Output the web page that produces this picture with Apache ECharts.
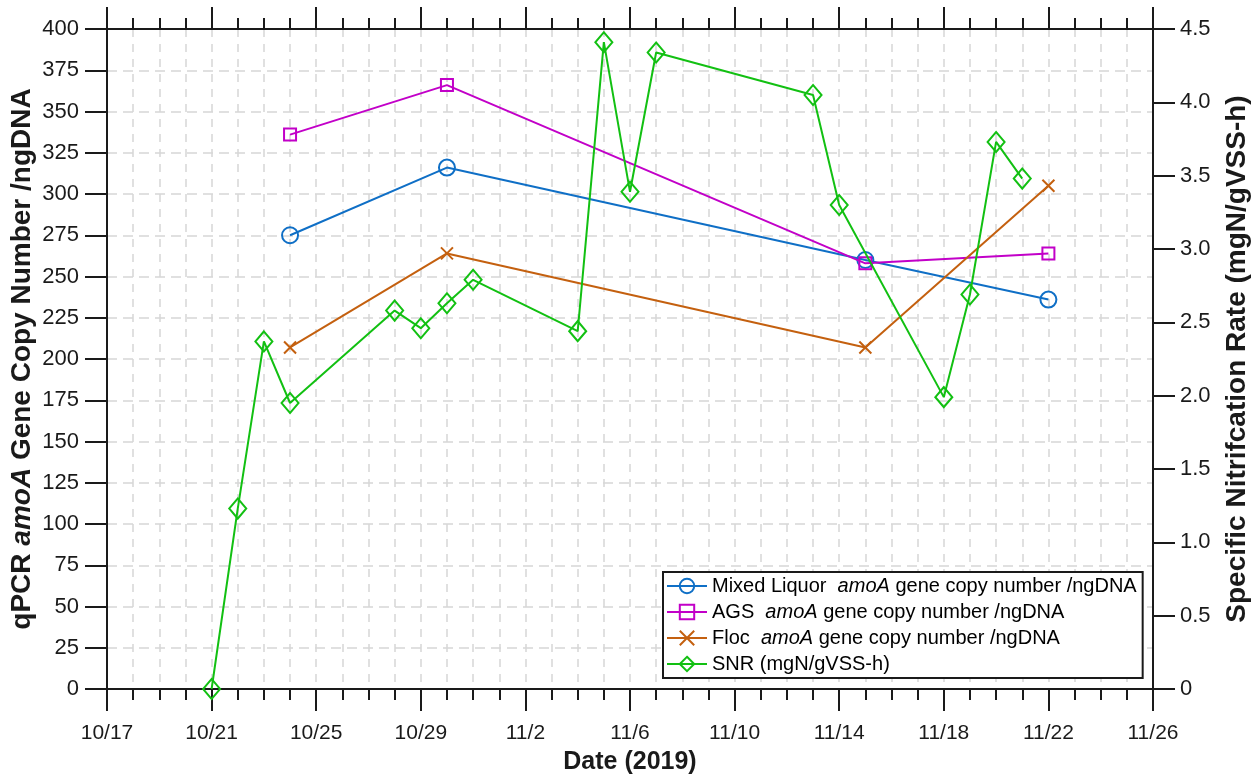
<!DOCTYPE html>
<html>
<head>
<meta charset="utf-8">
<script src="https://cdn.jsdelivr.net/npm/echarts@6/dist/echarts.min.js"></script>
<style>
html,body{margin:0;padding:0;background:#fff;}
#chart{width:1257px;height:782px;}
</style>
</head>
<body>
<div id="chart"></div>
<script>
// ---- data ----
const geneDates = ['10/24', '10/30', '11/15', '11/22'];
const mixedLiquorValues = [275, 316, 260, 236];
const agsValues = [336, 366, 258, 264];
const flocValues = [207, 264, 207, 305];

const snrDates = ['10/21','10/22','10/23','10/24','10/28','10/29','10/30','10/31','11/4','11/5','11/6','11/7','11/13','11/14','11/18','11/19','11/20','11/21'];
const snrValues = [0, 1.23, 2.37, 1.95, 2.58, 2.46, 2.63, 2.79, 2.44, 4.41, 3.39, 4.34, 4.05, 3.30, 1.99, 2.69, 3.73, 3.48];

const year = 2019;
const startDate = '10/17';
const endDate = '11/26';

// ---- helpers ----
const DAY = 86400000;
function toUTC(s){ const p = s.split('/'); return Date.UTC(year, +p[0]-1, +p[1]); }
const t0 = toUTC(startDate);
function dayIndex(s){ return Math.round((toUTC(s) - t0)/DAY); }
function pairs(dates, vals){ return dates.map((d,i)=>[dayIndex(d), vals[i]]); }
function dayLabel(v){ const d = new Date(t0 + v*DAY); return (d.getUTCMonth()+1) + '/' + d.getUTCDate(); }

const FONT = 'Liberation Sans, Arial, sans-serif';
const AXIS_COLOR = '#1a1a1a';
const GRID_COLOR = '#d6d6d6';

const C_BLUE = '#0F6FC6';
const C_MAG = '#C200C8';
const C_ORG = '#C4600F';
const C_GRN = '#12C012';

const xMax = dayIndex(endDate);

const chart = echarts.init(document.getElementById('chart'), null, {renderer:'canvas'});

function xAxisBase(pos){
  return {
    type:'value', position:pos, min:0, max:xMax, interval:4,
    axisLine:{show:true, onZero:false, lineStyle:{color:AXIS_COLOR, width:2}},
    axisTick:{show:true, inside:false, length:22, lineStyle:{color:AXIS_COLOR, width:2}},
    minorTick:{show:true, splitNumber:4, length:11, lineStyle:{color:AXIS_COLOR, width:2}},
  };
}

const legendRich = {
  n:{fontFamily:FONT, fontSize:20, color:'#000'},
  i:{fontFamily:FONT, fontSize:20, color:'#000', fontStyle:'italic'}
};

const option = {
  backgroundColor:'#fff',
  animation:false,
  textStyle:{fontFamily:FONT},
  grid:{left:107, right:104, top:29, bottom:93, containLabel:false, outerBoundsMode:'none'},
  legend:{
    orient:'vertical', left:663, top:572,
    backgroundColor:'#fff', borderColor:'#1a1a1a', borderWidth:2, borderRadius:0,
    padding:[3,6,3,3], itemGap:4, itemWidth:40, itemHeight:18,
    textStyle:{fontFamily:FONT, fontSize:20, color:'#000', lineHeight:22, rich:legendRich},
    data:['ml','ags','floc','snr'],
    formatter:function(name){
      if(name==='ml') return '{n|Mixed Liquor  }{i|amoA}{n| gene copy number /ngDNA}';
      if(name==='ags') return '{n|AGS  }{i|amoA}{n| gene copy number /ngDNA}';
      if(name==='floc') return '{n|Floc  }{i|amoA}{n| gene copy number /ngDNA}';
      return '{n|SNR (mgN/gVSS-h)}';
    }
  },
  xAxis:[
    Object.assign(xAxisBase('bottom'), {
      name:'Date (2019)', nameLocation:'middle', nameGap:61,
      nameTextStyle:{fontFamily:FONT, fontSize:25, fontWeight:'bold', color:'#1a1a1a'},
      axisLabel:{show:true, margin:34, fontFamily:FONT, fontSize:21, color:'#1a1a1a', formatter:dayLabel},
      splitLine:{show:true, lineStyle:{color:GRID_COLOR, width:1.5, type:[8,7]}},
      minorSplitLine:{show:true, lineStyle:{color:GRID_COLOR, width:1.5, type:[8,7]}}
    }),
    Object.assign(xAxisBase('top'), {
      axisLabel:{show:false}, splitLine:{show:false}, minorSplitLine:{show:false}
    })
  ],
  yAxis:[
    {
      type:'value', position:'left', min:0, max:400, interval:25,
      name:'{b|qPCR }{bi|amoA}{b| Gene Copy Number /ngDNA}', nameLocation:'middle', nameGap:71, nameRotate:90,
      nameMoveOverlap:false,
      nameTextStyle:{rich:{
        b:{fontFamily:FONT, fontSize:28, fontWeight:'bold', color:'#1a1a1a'},
        bi:{fontFamily:FONT, fontSize:28, fontWeight:'bold', fontStyle:'italic', color:'#1a1a1a'}
      }},
      axisLine:{show:true, onZero:false, lineStyle:{color:AXIS_COLOR, width:2}},
      axisTick:{show:true, inside:false, length:22, lineStyle:{color:AXIS_COLOR, width:2}},
      axisLabel:{margin:28, fontFamily:FONT, fontSize:22, color:'#1a1a1a'},
      splitLine:{show:true, lineStyle:{color:GRID_COLOR, width:1.5, type:[10,6]}}
    },
    {
      type:'value', position:'right', min:0, max:4.5, interval:0.5,
      name:'Specific Nitrifcation Rate (mgN/gVSS-h)', nameLocation:'middle', nameGap:70, nameRotate:90,
      nameTextStyle:{fontFamily:FONT, fontSize:28, fontWeight:'bold', color:'#1a1a1a'},
      axisLine:{show:true, onZero:false, lineStyle:{color:AXIS_COLOR, width:2}},
      axisTick:{show:true, inside:false, length:22, lineStyle:{color:AXIS_COLOR, width:2}},
      axisLabel:{margin:27, fontFamily:FONT, fontSize:22, color:'#1a1a1a',
        formatter:function(v){ return v===0 ? '0' : v.toFixed(1); }},
      splitLine:{show:false}
    }
  ],
  series:[
    {
      name:'ml', type:'line', xAxisIndex:0, yAxisIndex:0,
      data:pairs(geneDates, mixedLiquorValues),
      symbol:'circle', symbolSize:16,
      lineStyle:{color:C_BLUE, width:2},
      itemStyle:{color:'rgba(255,255,255,0)', borderColor:C_BLUE, borderWidth:2},
      emphasis:{disabled:true}, z:2
    },
    {
      name:'ags', type:'line', xAxisIndex:0, yAxisIndex:0,
      data:pairs(geneDates, agsValues),
      symbol:'rect', symbolSize:12,
      lineStyle:{color:C_MAG, width:2},
      itemStyle:{color:'rgba(255,255,255,0)', borderColor:C_MAG, borderWidth:2},
      emphasis:{disabled:true}, z:3
    },
    {
      name:'floc', type:'line', xAxisIndex:0, yAxisIndex:0,
      data:pairs(geneDates, flocValues),
      symbol:'path://M0,0L10,10M0,10L10,0', symbolSize:12,
      lineStyle:{color:C_ORG, width:2},
      itemStyle:{color:'rgba(255,255,255,0)', borderColor:C_ORG, borderWidth:2},
      emphasis:{disabled:true}, z:4
    },
    {
      name:'snr', type:'line', xAxisIndex:0, yAxisIndex:1,
      data:pairs(snrDates, snrValues),
      symbol:'diamond', symbolSize:[17,20],
      lineStyle:{color:C_GRN, width:2},
      itemStyle:{color:'rgba(255,255,255,0)', borderColor:C_GRN, borderWidth:2},
      emphasis:{disabled:true}, z:5
    }
  ]
};
chart.setOption(option);
</script>
</body>
</html>
